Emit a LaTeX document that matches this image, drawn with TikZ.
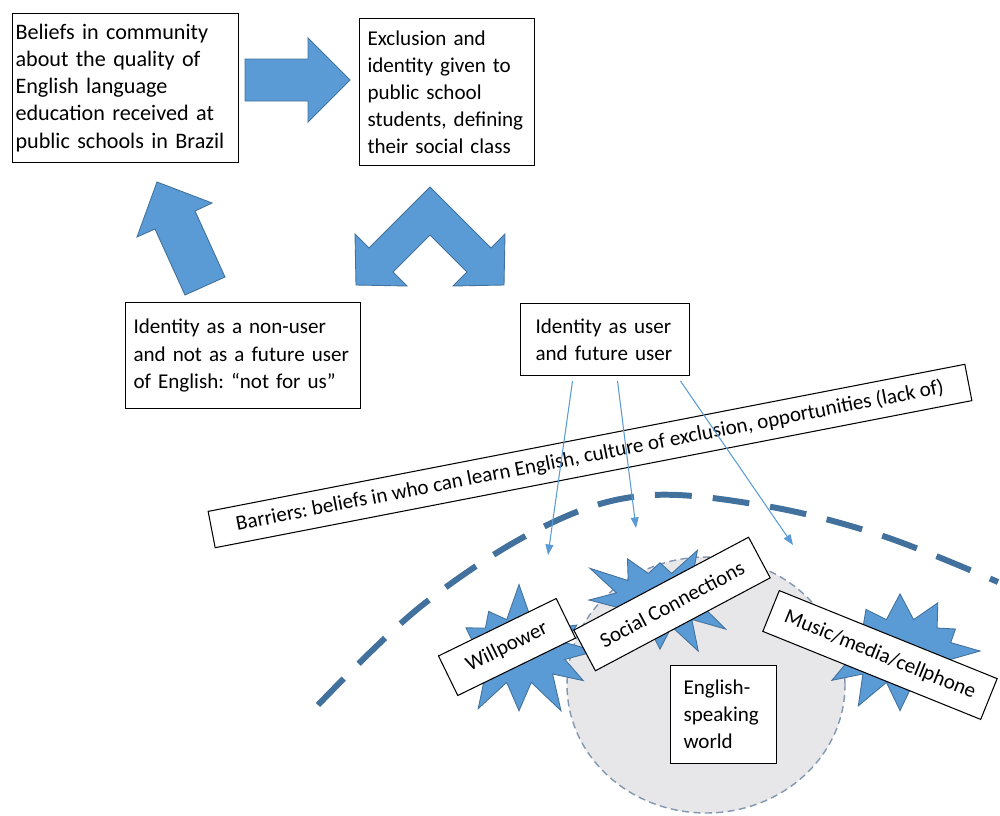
\documentclass[tikz,border=0pt]{standalone}
\usepackage{fontspec}
\setmainfont{Carlito}
\usepackage{tikz}
\usetikzlibrary{arrows.meta,shapes.symbols,positioning}
\frenchspacing

\definecolor{arrowblue}{RGB}{91,155,213}
\definecolor{edgeblue}{RGB}{65,113,156}
\definecolor{worldgray}{RGB}{231,230,233}
\definecolor{rimgray}{RGB}{132,151,176}

\begin{document}
\begin{tikzpicture}[x=0.02cm,y=-0.02cm,
	txt/.style={font=\fontsize{12}{15.4}\selectfont},
	bigtxt/.style={font=\fontsize{12.6}{15.4}\selectfont},
	box/.style={txt,draw,fill=white,line width=0.6pt,anchor=north west,align=left,inner ysep=0pt},
	tag/.style={txt,draw,fill=white,line width=0.6pt,inner sep=0pt},
	block/.style={fill=arrowblue,draw=edgeblue,line width=0.5pt},
	burst/.style={starburst,fill=arrowblue,draw=edgeblue,line width=0.5pt,starburst points=12,starburst point height=0.75cm,inner sep=0pt},
	pointer/.style={draw=arrowblue,line width=0.6pt,-{Triangle[width=4.5pt,length=6pt]}}]

	\useasboundingbox (0,0) rectangle (1000,815);

	% The world
	\draw [fill=worldgray,draw=rimgray,line width=0.8pt,dash pattern=on 4pt off 2.5pt] (706,685) ellipse [x radius=2.78cm,y radius=2.56cm];
	\draw [edgeblue,line width=3.4pt,dash pattern=on 21pt off 12pt] plot [smooth,tension=0.6] coordinates {(318,705) (420,607) (537,530) (640,496) (760,505) (880,535) (998,582)};

	% Bursts
	\node [burst,minimum width=3.4cm,minimum height=2.8cm,random starburst=7] at (519,651) (wBurst) {};
	\node [burst,minimum width=3.3cm,minimum height=2.6cm,random starburst=23] at (660,600) (sBurst) {};
	\node [burst,minimum width=3.6cm,minimum height=2.8cm,random starburst=41] at (900,651) (mBurst) {};

	% Tags
	\node [tag,rotate=26,minimum width=2.62cm,minimum height=0.88cm] at (507,647) (will) {Willpower};
	\node [tag,rotate=28,minimum width=3.96cm,minimum height=0.92cm] at (672,604) (social) {Social Connections};
	\node [tag,rotate=-22,minimum width=4.7cm,minimum height=0.88cm] at (880,655) (music) {Music/media/cellphone};
	\node [box,inner xsep=0.26cm,text width=1.6cm,minimum height=1.96cm] at (670,665) (world) {English-\\speaking\\world};

	% The boxes
	\node [box,bigtxt,inner xsep=0.06cm,text width=4.4cm,minimum height=2.98cm] at (12,13) (beliefs) {Beliefs in community\\about the quality of\\English language\\education received at\\public schools in Brazil};
	\node [box,inner xsep=0.16cm,text width=3.18cm,minimum height=2.94cm] at (359,18) (exclusion) {Exclusion and\\identity given to\\public school\\students, defining\\their social class};
	\node [box,inner xsep=0.16cm,text width=4.38cm,minimum height=2.12cm] at (125,302) (nonUser) {Identity as a non-user\\and not as a future user\\of English: “not for us”};
	\node [box,inner xsep=0.3cm,text width=2.78cm,minimum height=1.44cm] at (520,303) (user) {Identity as user\\and future user};
	\node [tag,rotate=11,minimum width=15.42cm,minimum height=0.74cm] at (590,456) (barriers) {Barriers: beliefs in who can learn English, culture of exclusion, opportunities (lack of)};

	% Block arrows
	\draw [block] (245,59) -- (308,59) -- (308,38) -- (350,80) -- (308,122) -- (308,101) -- (245,101) -- cycle;
	\draw [block] (185,295) -- (155,229) -- (137,237) -- (157,182) -- (212,203) -- (195,211) -- (225,277) -- cycle;
	\draw [block] (430,187) -- (491,248) -- (505,234) -- (504,285) -- (453,286) -- (467,272) -- (430,235)
		-- (393,272) -- (407,286) -- (356,285) -- (355,234) -- (369,248) -- cycle;

	% Pointers
	\coordinate (wTip) at (548,555);
	\coordinate (sTip) at (636,528);
	\coordinate (mTip) at (793,545);
	\draw [pointer] ([xshift=-0.65cm,yshift=-0.1cm]user.south) -- (wTip);
	\draw [pointer] ([xshift=0.25cm,yshift=-0.1cm]user.south) -- (sTip);
	\draw [pointer] ([xshift=1.51cm,yshift=-0.1cm]user.south) -- (mTip);

\end{tikzpicture}
\end{document}
